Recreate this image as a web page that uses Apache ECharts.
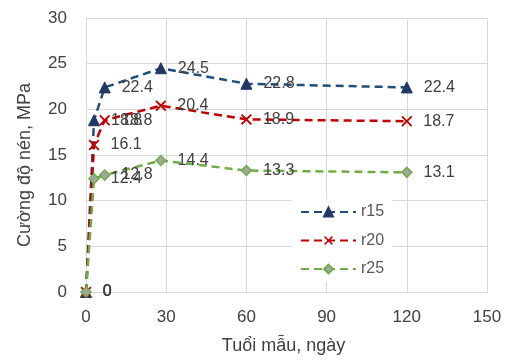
<!DOCTYPE html>
<html><head><meta charset="utf-8">
<script src="https://cdn.jsdelivr.net/npm/echarts@6/dist/echarts.min.js"></script>
<style>html,body{margin:0;padding:0;background:#fff}#c{width:508px;height:360px}</style>
</head><body><div id="c"></div>
<script>
const days = [0, 3, 7, 28, 60, 120];
const r15 = [0, 18.8, 22.4, 24.5, 22.8, 22.4];
const r20 = [0, 16.1, 18.8, 20.4, 18.9, 18.7];
const r25 = [0, 12.4, 12.8, 14.4, 13.3, 13.1];
const seriesNames = ['r15', 'r20', 'r25'];
const xTitle = 'Tuổi mẫu, ngày';
const yTitle = 'Cường độ nén, MPa';

const FONT = 'Liberation Sans';
const xPath = 'path://M0,1.2 L1.2,0 L5,3.8 L8.8,0 L10,1.2 L6.2,5 L10,8.8 L8.8,10 L5,6.2 L1.2,10 L0,8.8 L3.8,5 Z';
function pairs(v){ return days.map((d,i)=>[d, v[i]]); }
const lbl = {show:true, position:'right', distance:11, color:'#404040', fontSize:16, fontFamily:FONT,
  formatter: p => String(p.value[1])};
const chart = echarts.init(document.getElementById('c'), null, {renderer:'canvas'});
chart.setOption({
  animation:false,
  backgroundColor:'#fff',
  textStyle:{fontFamily:FONT},
  grid:{left:86, right:21, top:18, bottom:67, containLabel:false},
  xAxis:{type:'value', min:0, max:150, interval:30,
    name:xTitle, nameLocation:'middle', nameGap:45,
    nameTextStyle:{color:'#404040', fontSize:18, fontFamily:FONT, padding:[0,6,0,0]},
    axisLine:{show:true, lineStyle:{color:'#d9d9d9'}}, axisTick:{show:false},
    axisLabel:{color:'#404040', fontSize:17, margin:17, fontFamily:FONT},
    splitLine:{show:true, lineStyle:{color:'#d9d9d9', width:1}}},
  yAxis:{type:'value', min:0, max:30, interval:5,
    name:yTitle, nameLocation:'middle', nameGap:52, nameRotate:90,
    nameTextStyle:{color:'#404040', fontSize:18, fontFamily:FONT, padding:[0,0,0,-20]},
    axisLine:{show:true, lineStyle:{color:'#d9d9d9'}}, axisTick:{show:false},
    axisLabel:{color:'#404040', fontSize:17, margin:19, fontFamily:FONT},
    splitLine:{show:true, lineStyle:{color:'#d9d9d9', width:1}}},
  legend:{show:true, orient:'vertical', left:292, top:199, backgroundColor:'#fff',
    padding:[5,8,5,8], itemWidth:55, itemHeight:11, itemGap:12.5,
    textStyle:{color:'#595959', fontSize:16, fontFamily:FONT},
    data:seriesNames},
  series:[
    {name:seriesNames[0], type:'line', data:pairs(r15), symbol:'triangle', symbolSize:11,
     lineStyle:{color:'#1F4E79', width:2.5, type:[8,5]},
     itemStyle:{color:'#203864', borderColor:'#203864', borderWidth:1}, label:lbl, z:3},
    {name:seriesNames[1], type:'line', data:pairs(r20), symbol:xPath, symbolSize:11,
     lineStyle:{color:'#C00000', width:2.5, type:[8,5]},
     itemStyle:{color:'#C00000', borderWidth:0}, label:lbl, z:3},
    {name:seriesNames[2], type:'line', data:pairs(r25), symbol:'diamond', symbolSize:10,
     lineStyle:{color:'#70AD47', width:2.5, type:[8,5]},
     itemStyle:{color:'#A5A5A5', borderColor:'#70AD47', borderWidth:1.5}, label:lbl, z:3}
  ]
});
</script></body></html>
